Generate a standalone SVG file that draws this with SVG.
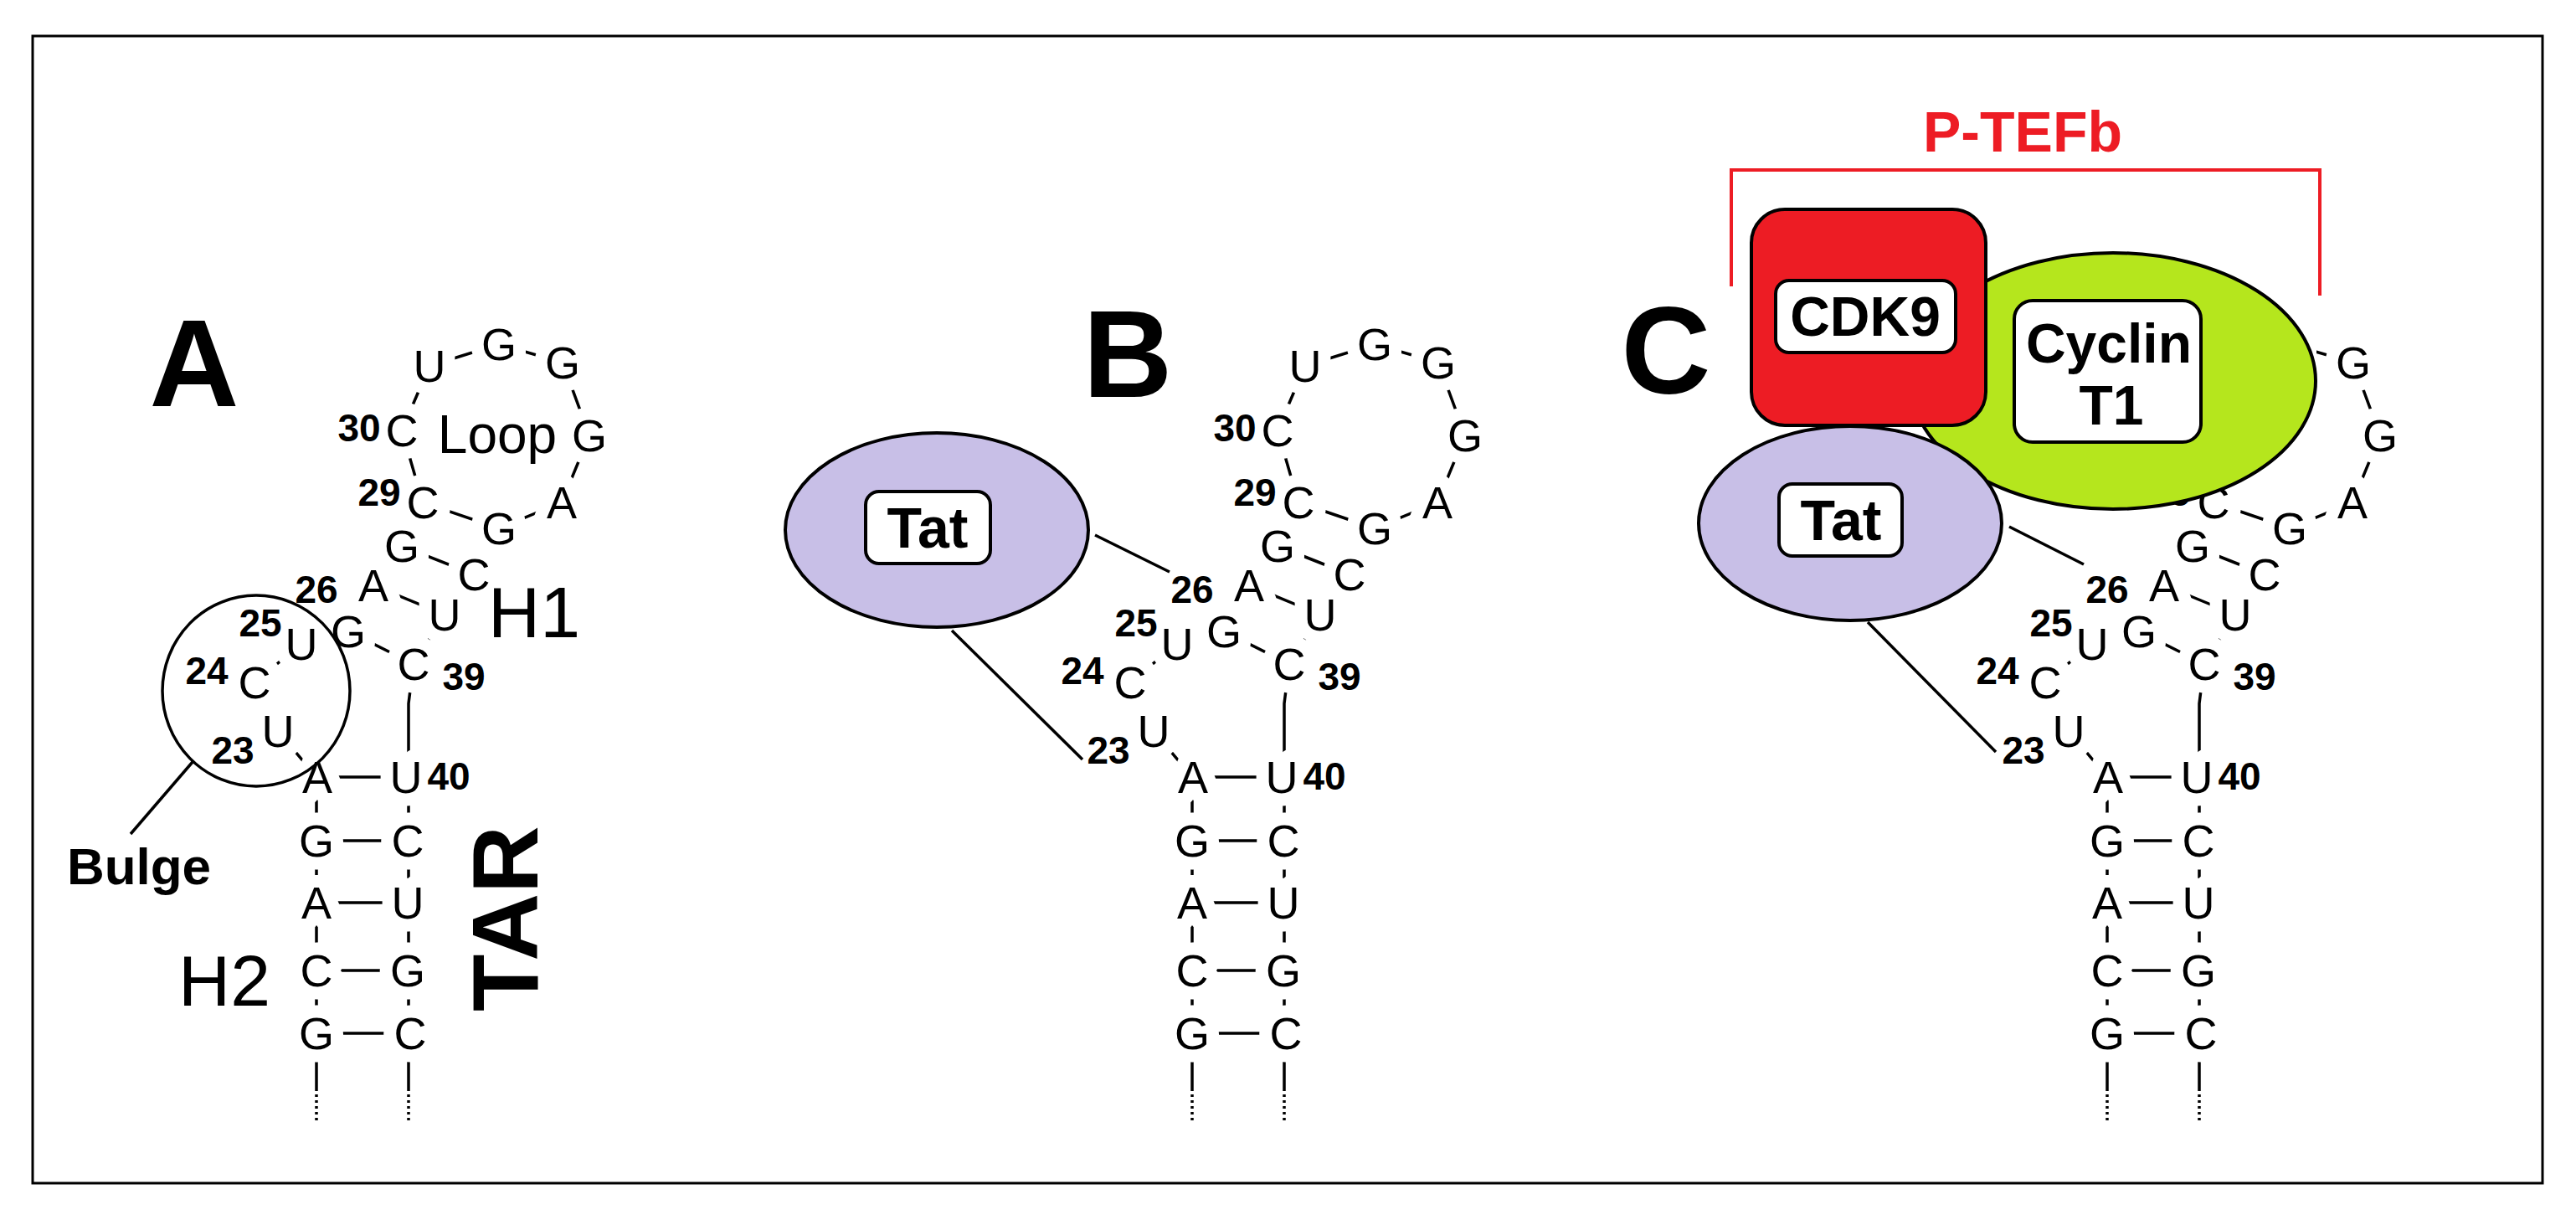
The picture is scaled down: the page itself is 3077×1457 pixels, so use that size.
<svg xmlns="http://www.w3.org/2000/svg" xmlns:xlink="http://www.w3.org/1999/xlink" width="3077" height="1457" viewBox="0 0 3077 1457">
<style>
.nt{font-family:"Liberation Sans",Arial,sans-serif;font-size:54px;text-anchor:middle;fill:#000;stroke:#fff;stroke-width:30px;paint-order:stroke;stroke-linejoin:round}
.num{font-family:"Liberation Sans",Arial,sans-serif;font-size:46px;font-weight:bold;text-anchor:middle;fill:#000;stroke:#fff;stroke-width:8px;paint-order:stroke}
.big{font-family:"Liberation Sans",Arial,sans-serif;font-size:148px;font-weight:bold;text-anchor:middle;fill:#000}
.lbl{font-family:"Liberation Sans",Arial,sans-serif;text-anchor:middle;fill:#000}
.ln{stroke:#000;stroke-width:3.5;fill:none}
.prot{font-family:"Liberation Sans",Arial,sans-serif;font-weight:bold;text-anchor:middle;fill:#000}
.box{fill:#fff;stroke:#000;stroke-width:4}
</style>
<defs>
<g id="stem">
  <polyline class="ln" points="378,1300 378,928 332,873 304,815 360,769 416,754 446,699 480,652 505,600 480,514 513,437 596,411 672,433 704,520 671,600 596,631 566,686 531,734 494,793 488,840 488,1300"/>
  <line class="ln" x1="378" y1="1300" x2="378" y2="1339" stroke-dasharray="3 4"/>
  <line class="ln" x1="488" y1="1300" x2="488" y2="1339" stroke-dasharray="3 4"/>
  <g class="ln">
    <line x1="416" y1="754" x2="494" y2="793"/>
    <line x1="446" y1="699" x2="531" y2="734"/>
    <line x1="480" y1="652" x2="566" y2="686"/>
    <line x1="505" y1="600" x2="596" y2="631"/>
    <line x1="378" y1="928" x2="485" y2="928"/>
    <line x1="378" y1="1004" x2="487" y2="1004"/>
    <line x1="378" y1="1078" x2="487" y2="1078"/>
    <line x1="378" y1="1159" x2="487" y2="1159"/>
    <line x1="378" y1="1234" x2="490" y2="1234"/>
  </g>
  <g class="nt">
    <text x="513" y="456">U</text><text x="596" y="430">G</text><text x="672" y="452">G</text>
    <text x="704" y="539">G</text><text x="671" y="619">A</text><text x="596" y="650">G</text>
    <text x="505" y="619">C</text><text x="480" y="533">C</text>
    <text x="480" y="671">G</text><text x="566" y="705">C</text><text x="446" y="718">A</text><text x="531" y="753">U</text>
    <text x="360" y="788">U</text><text x="416" y="773">G</text><text x="494" y="812">C</text>
    <text x="304" y="834">C</text><text x="332" y="892">U</text>
    <text x="379" y="947">A</text><text x="485" y="947">U</text>
    <text x="378" y="1023">G</text><text x="487" y="1023">C</text>
    <text x="378" y="1097">A</text><text x="487" y="1097">U</text>
    <text x="378" y="1178">C</text><text x="487" y="1178">G</text>
    <text x="378" y="1253">G</text><text x="490" y="1253">C</text>
  </g>
  <g class="num">
    <text x="429" y="527">30</text><text x="453" y="604">29</text><text x="378" y="720">26</text>
    <text x="311" y="760">25</text><text x="554" y="824">39</text><text x="247" y="817">24</text>
    <text x="278" y="912">23</text><text x="536" y="943">40</text>
  </g>
</g>
</defs>
<rect x="39" y="43" width="2998" height="1370" fill="#fff" stroke="#000" stroke-width="3"/>

<g id="panelA">
  <text class="big" x="232" y="485">A</text>
  <use xlink:href="#stem" href="#stem"/>
  <text class="lbl" x="594" y="541" font-size="64">Loop</text>
  <text class="lbl" x="638" y="761" font-size="86">H1</text>
  <text class="lbl" x="268" y="1201" font-size="86">H2</text>
  <text class="lbl" font-weight="bold" font-size="112" transform="translate(642,1097) rotate(-90)">TAR</text>
  <g id="bulge">
    <ellipse class="ln" cx="306" cy="825" rx="112" ry="114" stroke-width="3"/>
    <line class="ln" x1="230" y1="910" x2="156" y2="996" stroke-width="3"/>
    <text class="lbl" x="166" y="1056" font-size="62" font-weight="bold">Bulge</text>
  </g>
</g>

<g id="panelB">
  <text class="big" x="1347" y="474">B</text>
  <use xlink:href="#stem" href="#stem" transform="translate(1046,0)"/>
  <g id="connectorsB">
    <line class="ln" x1="1308" y1="639" x2="1397" y2="683" stroke-width="3"/>
    <line class="ln" x1="1137" y1="753" x2="1293" y2="907" stroke-width="3"/>
  </g>
  <g id="tatB">
    <ellipse cx="1119" cy="633" rx="181" ry="116" fill="#C8BFE7" stroke="#000" stroke-width="4"/>
    <rect class="box" x="1034" y="587" width="149" height="86" rx="16"/>
    <text class="prot" x="1108" y="654" font-size="68">Tat</text>
  </g>
</g>

<g id="panelC">
  <text class="big" x="1990" y="470">C</text>
  <use xlink:href="#stem" href="#stem" transform="translate(2139,0)"/>
  <g id="connectorsC">
    <line class="ln" x1="2400" y1="629" x2="2489" y2="674" stroke-width="3"/>
    <line class="ln" x1="2231" y1="743" x2="2384" y2="898" stroke-width="3"/>
  </g>
  <g id="cyclinT1">
    <ellipse cx="2524" cy="455" rx="242" ry="153" fill="#B5E61D" stroke="#000" stroke-width="4"/>
    <rect class="box" x="2406" y="359" width="223" height="169" rx="22"/>
    <text class="prot" x="2519" y="433" font-size="66">Cyclin</text>
    <text class="prot" x="2522" y="507" font-size="66">T1</text>
  </g>
  <g id="cdk9">
    <rect x="2092" y="250" width="280" height="258" rx="40" fill="#ED1C24" stroke="#000" stroke-width="4"/>
    <rect class="box" x="2121" y="335" width="215" height="86" rx="16"/>
    <text class="prot" x="2228" y="401" font-size="66">CDK9</text>
  </g>
  <g id="tatC">
    <ellipse cx="2210" cy="625" rx="181" ry="116" fill="#C8BFE7" stroke="#000" stroke-width="4"/>
    <rect class="box" x="2125" y="578" width="147" height="86" rx="16"/>
    <text class="prot" x="2199" y="645" font-size="68">Tat</text>
  </g>
  <g id="ptefb">
    <polyline points="2068,342 2068,203 2771,203 2771,353" fill="none" stroke="#ED1C24" stroke-width="4"/>
    <text class="prot" x="2416" y="181" font-size="68" style="fill:#ED1C24">P-TEFb</text>
  </g>
</g>
</svg>
